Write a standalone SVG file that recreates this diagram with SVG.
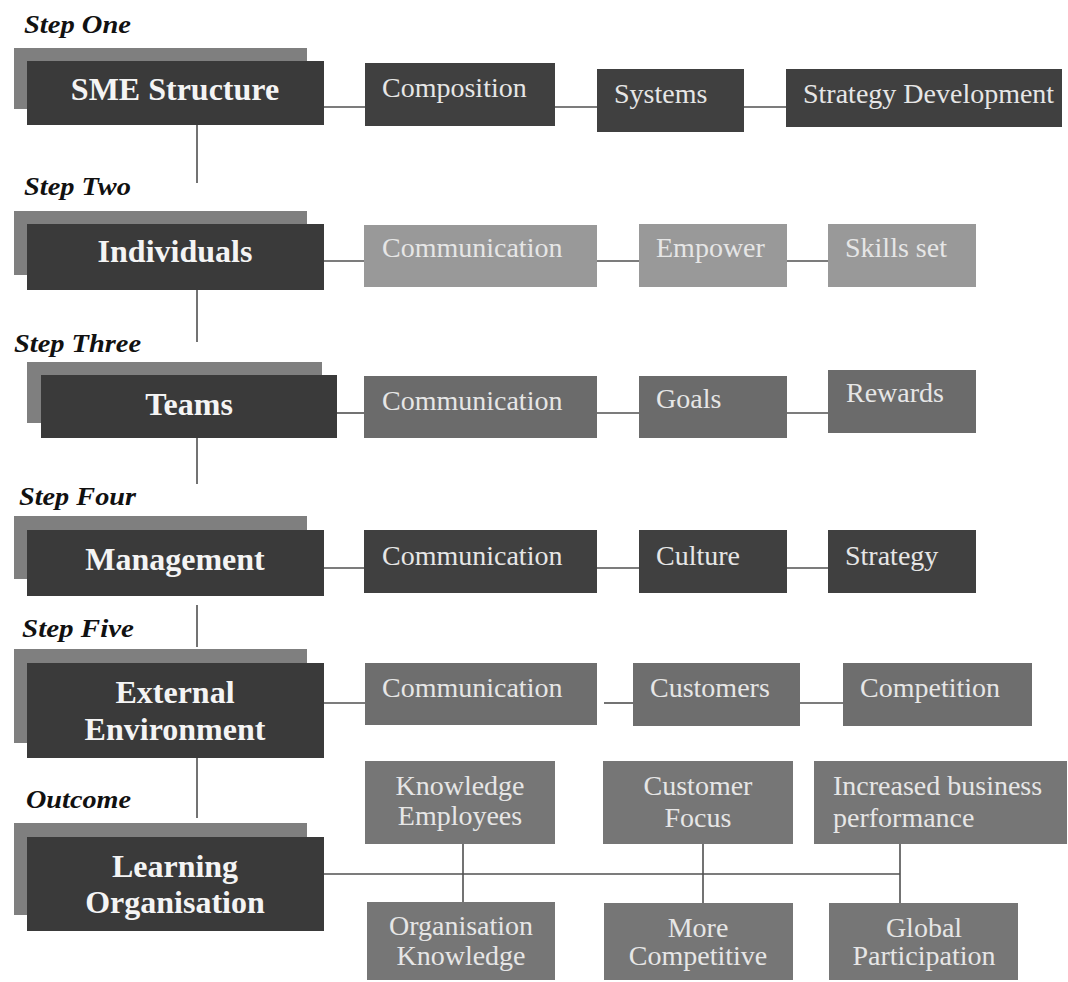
<svg xmlns="http://www.w3.org/2000/svg" width="1068" height="982" viewBox="0 0 1068 982">
<style>
.bg{fill:#ffffff}
.back{fill:#7f7f7f}
.front{fill:#3a3a3a}
.main{font-family:"Liberation Serif","Times New Roman",serif;font-weight:bold;font-size:32px;fill:#f4f4f4;text-anchor:middle}
.step{font-family:"Liberation Serif","Times New Roman",serif;font-weight:bold;font-style:italic;font-size:26px;fill:#111111}
.sub{font-family:"Liberation Serif","Times New Roman",serif;font-size:28px;fill:#e6e6e6}
.mid{text-anchor:middle}
.dark{fill:#404040}
.light{fill:#999999}
.mgray{fill:#6b6b6b}
.ext{fill:#6e6e6e}
.out{fill:#767676}
.conn line{stroke:#505050;stroke-width:1.6}
</style>
<rect class="bg" x="0" y="0" width="1068" height="982"/>

<g id="step-labels">
<text class="step" x="24" y="33" textLength="107" lengthAdjust="spacingAndGlyphs">Step One</text>
<text class="step" x="24" y="195" textLength="107" lengthAdjust="spacingAndGlyphs">Step Two</text>
<text class="step" x="14" y="352" textLength="127" lengthAdjust="spacingAndGlyphs">Step Three</text>
<text class="step" x="19" y="505" textLength="117" lengthAdjust="spacingAndGlyphs">Step Four</text>
<text class="step" x="22" y="637" textLength="112" lengthAdjust="spacingAndGlyphs">Step Five</text>
<text class="step" x="26" y="808" textLength="105" lengthAdjust="spacingAndGlyphs">Outcome</text>
</g>

<g id="connectors" class="conn">
<line x1="197" y1="125" x2="197" y2="183"/>
<line x1="197" y1="290" x2="197" y2="342"/>
<line x1="197" y1="438" x2="197" y2="484"/>
<line x1="197" y1="605" x2="197" y2="647"/>
<line x1="197" y1="757" x2="197" y2="818"/>
<line x1="324" y1="107" x2="365" y2="107"/>
<line x1="555" y1="107" x2="597" y2="107"/>
<line x1="744" y1="107" x2="786" y2="107"/>
<line x1="324" y1="261" x2="364" y2="261"/>
<line x1="597" y1="261" x2="639" y2="261"/>
<line x1="787" y1="261" x2="828" y2="261"/>
<line x1="337" y1="413" x2="364" y2="413"/>
<line x1="597" y1="413" x2="639" y2="413"/>
<line x1="787" y1="413" x2="828" y2="413"/>
<line x1="324" y1="568" x2="364" y2="568"/>
<line x1="597" y1="568" x2="639" y2="568"/>
<line x1="787" y1="568" x2="828" y2="568"/>
<line x1="324" y1="703" x2="365" y2="703"/>
<line x1="604" y1="703" x2="633" y2="703"/>
<line x1="800" y1="703" x2="843" y2="703"/>
<line x1="324" y1="874" x2="900" y2="874"/>
<line x1="463" y1="844" x2="463" y2="902"/>
<line x1="703" y1="844" x2="703" y2="903"/>
<line x1="900" y1="844" x2="900" y2="903"/>
</g>

<g id="sme-structure">
<rect class="back" x="14" y="48" width="293" height="61"/>
<rect class="front" x="27" y="61" width="297" height="64"/>
<text class="main" x="175" y="100">SME Structure</text>
</g>
<g id="individuals">
<rect class="back" x="14" y="211" width="293" height="64"/>
<rect class="front" x="27" y="224" width="297" height="66"/>
<text class="main" x="175" y="262">Individuals</text>
</g>
<g id="teams">
<rect class="back" x="27" y="362" width="295" height="61"/>
<rect class="front" x="41" y="375" width="296" height="63"/>
<text class="main" x="189" y="415">Teams</text>
</g>
<g id="management">
<rect class="back" x="14" y="516" width="293" height="63"/>
<rect class="front" x="27" y="530" width="297" height="66"/>
<text class="main" x="175" y="570">Management</text>
</g>
<g id="external-environment">
<rect class="back" x="14" y="649" width="293" height="94"/>
<rect class="front" x="27" y="663" width="297" height="95"/>
<text class="main" x="175" y="703">External</text>
<text class="main" x="175" y="740">Environment</text>
</g>
<g id="learning-organisation">
<rect class="back" x="14" y="823" width="293" height="92"/>
<rect class="front" x="27" y="837" width="297" height="94"/>
<text class="main" x="175" y="877">Learning</text>
<text class="main" x="175" y="913">Organisation</text>
</g>

<g id="composition"><rect class="dark" x="365" y="63" width="190" height="63"/><text class="sub" x="382" y="97">Composition</text></g>
<g id="systems"><rect class="dark" x="597" y="69" width="147" height="63"/><text class="sub" x="614" y="103">Systems</text></g>
<g id="strategy-development"><rect class="dark" x="786" y="69" width="276" height="58"/><text class="sub" x="803" y="103">Strategy Development</text></g>

<g id="ind-communication"><rect class="light" x="364" y="225" width="233" height="62"/><text class="sub" x="382" y="257">Communication</text></g>
<g id="empower"><rect class="light" x="639" y="224" width="148" height="63"/><text class="sub" x="656" y="257">Empower</text></g>
<g id="skills-set"><rect class="light" x="828" y="224" width="148" height="63"/><text class="sub" x="845" y="257">Skills set</text></g>

<g id="teams-communication"><rect class="mgray" x="364" y="376" width="233" height="62"/><text class="sub" x="382" y="410">Communication</text></g>
<g id="goals"><rect class="mgray" x="639" y="376" width="148" height="62"/><text class="sub" x="656" y="408">Goals</text></g>
<g id="rewards"><rect class="mgray" x="828" y="370" width="148" height="63"/><text class="sub" x="846" y="402">Rewards</text></g>

<g id="mgmt-communication"><rect class="dark" x="364" y="530" width="233" height="63"/><text class="sub" x="382" y="565">Communication</text></g>
<g id="culture"><rect class="dark" x="639" y="530" width="148" height="63"/><text class="sub" x="656" y="565">Culture</text></g>
<g id="strategy"><rect class="dark" x="828" y="530" width="148" height="63"/><text class="sub" x="845" y="565">Strategy</text></g>

<g id="ext-communication"><rect class="ext" x="365" y="663" width="232" height="62"/><text class="sub" x="382" y="697">Communication</text></g>
<g id="customers"><rect class="ext" x="633" y="663" width="167" height="63"/><text class="sub" x="650" y="697">Customers</text></g>
<g id="competition"><rect class="ext" x="843" y="663" width="189" height="63"/><text class="sub" x="860" y="697">Competition</text></g>

<g id="knowledge-employees"><rect class="out" x="365" y="761" width="190" height="83"/><text class="sub mid" x="460" y="795">Knowledge</text><text class="sub mid" x="460" y="825">Employees</text></g>
<g id="customer-focus"><rect class="out" x="603" y="761" width="190" height="83"/><text class="sub mid" x="698" y="795">Customer</text><text class="sub mid" x="698" y="827">Focus</text></g>
<g id="increased-business-performance"><rect class="out" x="814" y="761" width="253" height="83"/><text class="sub" x="833" y="795">Increased business</text><text class="sub" x="833" y="827">performance</text></g>
<g id="organisation-knowledge"><rect class="out" x="367" y="902" width="188" height="78"/><text class="sub mid" x="461" y="935">Organisation</text><text class="sub mid" x="461" y="965">Knowledge</text></g>
<g id="more-competitive"><rect class="out" x="604" y="903" width="189" height="77"/><text class="sub mid" x="698" y="937">More</text><text class="sub mid" x="698" y="965">Competitive</text></g>
<g id="global-participation"><rect class="out" x="829" y="903" width="189" height="77"/><text class="sub mid" x="924" y="937">Global</text><text class="sub mid" x="924" y="965">Participation</text></g>
</svg>
